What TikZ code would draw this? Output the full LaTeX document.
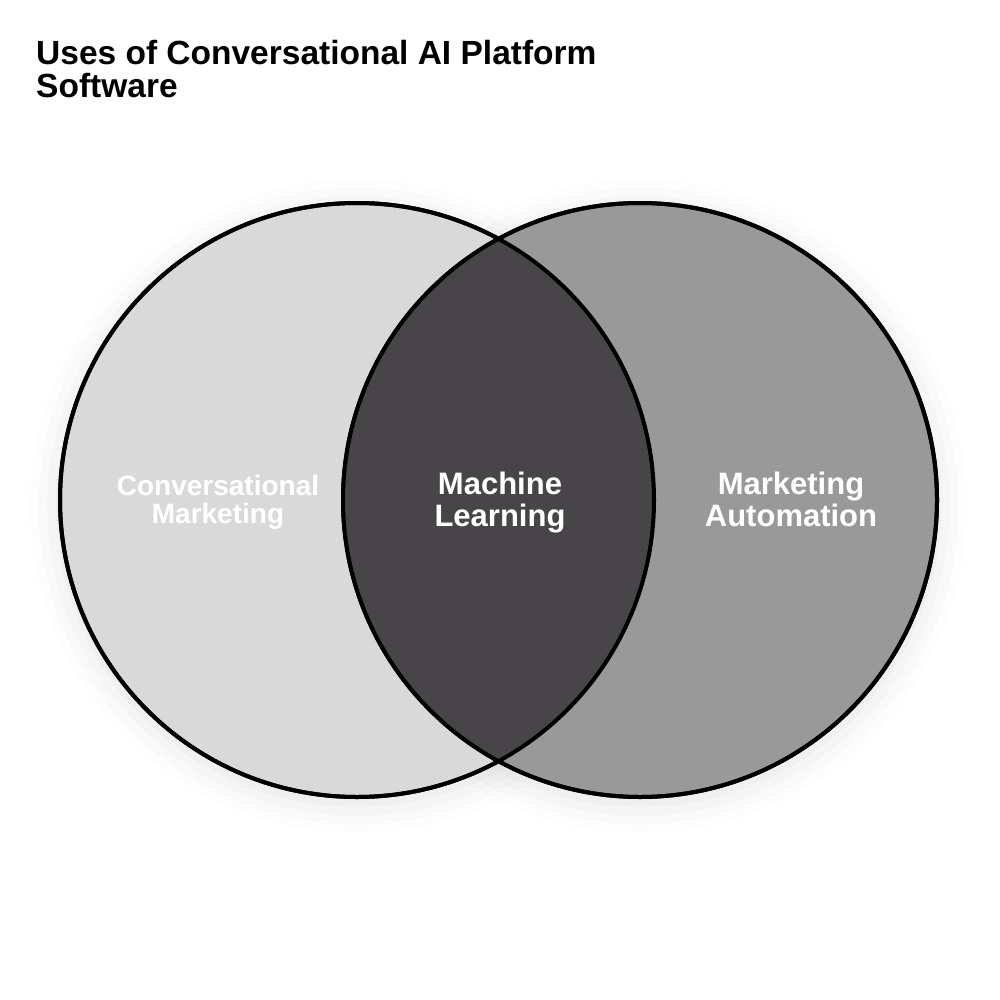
\documentclass[tikz,border=0pt]{standalone}
\usepackage{fontspec}
\setmainfont{Liberation Sans}
\usepackage{tikz}
\usetikzlibrary{positioning,shadows.blur}
\definecolor{leftgray}{HTML}{D9D9D9}
\definecolor{rightgray}{HTML}{999999}
\definecolor{midgray}{HTML}{474548}

\begin{document}
\begin{tikzpicture}[
    x=1pt, y=-1pt,
    font=\bfseries,
    set/.style={
		circle,
		draw=black,
		line width=4pt,
		minimum size=594pt,
		inner sep=0pt
	},
	setshadow/.style={
		blur shadow={shadow xshift=0pt, shadow yshift=-6pt,
		             shadow blur radius=30pt, shadow opacity=12}
	},
	setlabel/.style={
		text=white,
		align=center,
		text depth=7pt,
		font=\fontsize{31}{31.5}\selectfont\bfseries
	}
  ]
  \useasboundingbox (0,0) rectangle (1000,1000);

  % title
  \node [anchor=north west, align=left, inner sep=0pt,
         font=\fontsize{33.5}{33}\selectfont\bfseries] (title) at (36,40)
  {Uses of Conversational AI Platform\\Software};

  % the two sets, shadows first
  \coordinate (c1) at (357,500);
  \coordinate (c2) at (640,500);
  \foreach \c in {c1,c2}
    \path [setshadow] (\c) circle (297);

  \node [set, fill=leftgray] (conv) at (c1) {};
  \node [set, fill=rightgray] (auto) at (c2) {};

  % overlap
  \begin{scope}
    \clip (c1) circle (297);
    \fill [midgray] (c2) circle (297);
  \end{scope}
  \draw [line width=4pt] (c1) circle (297);
  \draw [line width=4pt] (c2) circle (297);

  \node [setlabel, font=\fontsize{28}{28}\selectfont\bfseries]
    (convlabel) at (218,502.5) {Conversational\\Marketing};
  \node [setlabel] (ml) at (500,503) {Machine\\Learning};
  \node [setlabel] (autolabel) at (791,503) {Marketing\\Automation};

\end{tikzpicture}
\end{document}
